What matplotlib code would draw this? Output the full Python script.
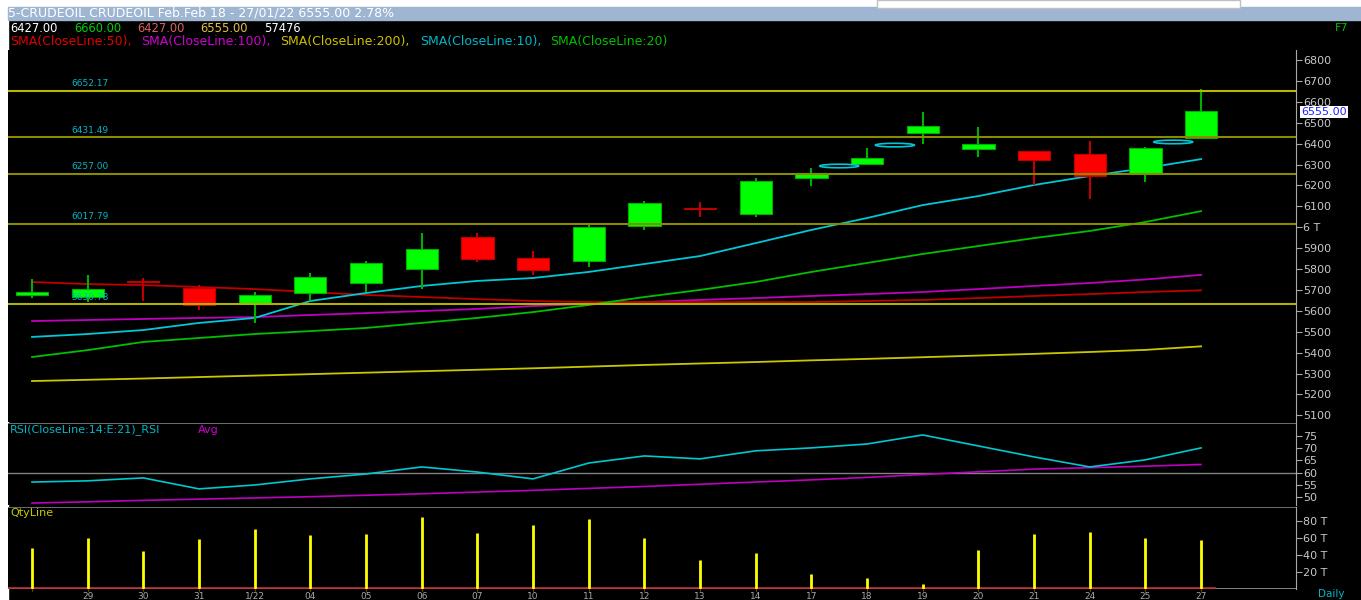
import matplotlib
matplotlib.use('Agg')
import matplotlib.pyplot as plt
from matplotlib.patches import Rectangle, Ellipse

W, H = 1361, 600

# Daily candles (Dec 28 .. Jan 27)
dates = ['', '29', '30', '31', '1/22', '04', '05', '06', '07', '10', '11',
         '12', '13', '14', '17', '18', '19', '20', '21', '24', '25', '27']
opens = [5675, 5666, 5740, 5710, 5637, 5685, 5733, 5800, 5953, 5853, 5838,
         6005, 6092, 6063, 6235, 6302, 6451, 6374, 6364, 6350, 6255, 6427]
closes = [5690, 5704, 5736, 5628, 5675, 5762, 5829, 5896, 5848, 5795, 6001,
          6115, 6088, 6221, 6258, 6330, 6484, 6398, 6321, 6245, 6380, 6555]
highs = [5750, 5770, 5755, 5725, 5690, 5781, 5838, 5972, 5972, 5886, 6015,
         6125, 6120, 6235, 6283, 6379, 6550, 6480, 6366, 6412, 6385, 6660]
lows = [5660, 5640, 5645, 5605, 5540, 5647, 5690, 5705, 5834, 5771, 5810,
        5987, 6050, 6050, 6197, 6297, 6398, 6336, 6202, 6135, 6216, 6427]

# moving averages
sma10 = [5475, 5489, 5508, 5542, 5566, 5647, 5685, 5719, 5743, 5757, 5786,
         5824, 5862, 5924, 5987, 6044, 6106, 6149, 6202, 6245, 6283, 6326]
sma20 = [5379, 5412, 5451, 5470, 5489, 5503, 5518, 5542, 5566, 5594, 5628,
         5666, 5700, 5738, 5786, 5829, 5872, 5910, 5948, 5982, 6025, 6077]
sma50 = [5738, 5728, 5723, 5714, 5704, 5690, 5676, 5666, 5656, 5647, 5642,
         5642, 5642, 5642, 5642, 5647, 5652, 5661, 5671, 5680, 5690, 5698]
sma100 = [5551, 5556, 5561, 5566, 5570, 5580, 5589, 5599, 5609, 5623, 5633,
          5642, 5652, 5661, 5671, 5680, 5690, 5704, 5719, 5733, 5750, 5772]
sma200 = [5264, 5270, 5276, 5283, 5290, 5297, 5304, 5311, 5318, 5325, 5333,
          5341, 5348, 5355, 5363, 5370, 5378, 5386, 5394, 5403, 5413, 5430]

# horizontal levels
levels = [6652.17, 6431.49, 6257.00, 6017.79, 5630.78]
level_colors = ['#b8b800', '#8a8a00', '#8a8a00', '#8a8a00', '#b0b000']

# cyan markers
mark_x = [14.5, 15.5, 20.5]
mark_y = [6293, 6393, 6408]

# RSI
rsi = [56.1, 56.6, 57.8, 53.3, 54.9, 57.4, 59.4, 62.3, 60.2, 57.4, 63.9,
       66.8, 65.6, 68.9, 70.1, 71.7, 75.4, 70.9, 66.4, 62.3, 65.2, 70.1]
rsi_avg = [47.5, 48.0, 48.6, 49.1, 49.6, 50.1, 50.7, 51.3, 52.0, 52.7, 53.5,
           54.3, 55.2, 56.1, 57.0, 58.0, 59.2, 60.3, 61.4, 62.0, 62.6, 63.3]

# volume in thousands
qty = [48.2, 60, 45, 58, 69.8, 62.7, 64.7, 83.9, 65.9, 74.5, 81.5,
       60, 34, 42.7, 17.6, 13.3, 5.9, 46.2, 64.7, 66.6, 59.2, 57.5]

grey = '#a8a8a8'
xs = list(range(len(dates)))
xlim = ((8 - 32) / 55.67, (1296 - 32) / 55.67)


def box(x0, y0, x1, y1):
    return [x0 / W, 1 - y1 / H, (x1 - x0) / W, (y1 - y0) / H]


def style(ax):
    ax.set_facecolor('black')
    for s in ['top', 'left', 'bottom']:
        ax.spines[s].set_visible(False)
    ax.spines['right'].set_color(grey)
    ax.yaxis.tick_right()
    ax.tick_params(axis='y', colors=grey, labelcolor='#c8c8c8', labelsize=8,
                   direction='out', length=4, pad=1)
    ax.set_xlim(*xlim)


fig = plt.figure(figsize=(W / 100, H / 100), dpi=100, facecolor='black')

# white margins and header strip
fig.add_artist(Rectangle((0, 0), 8 / W, 1, transform=fig.transFigure,
                         color='white', zorder=0))
fig.add_artist(Rectangle((0, 1 - 7 / H), 1, 7 / H, transform=fig.transFigure,
                         color='white', zorder=0))
fig.add_artist(Rectangle((877 / W, 1 - 8 / H), 363 / W, 8 / H,
                         transform=fig.transFigure, facecolor='white',
                         edgecolor='#c0c0c0', lw=1, zorder=1))
fig.add_artist(Rectangle((8 / W, 1 - 20 / H), 1 - 8 / W, 13 / H,
                         transform=fig.transFigure, color='#9fb6d2', zorder=0))
fig.text(8 / W, 1 - 13.5 / H,
         '5-CRUDEOIL CRUDEOIL Feb.Feb 18 - 27/01/22 6555.00 2.78%',
         color='white', fontsize=9, va='center', ha='left')

# OHLC values row
for x, t, c in [(10, '6427.00', 'white'), (74, '6660.00', '#00d000'),
                (137, '6427.00', '#e06060'), (200, '6555.00', '#e8c040'),
                (264, '57476', 'white')]:
    fig.text(x / W, 1 - 28 / H, t, color=c, fontsize=8.3, va='center')
fig.text(1335 / W, 1 - 28 / H, 'F7', color='#00c000', fontsize=8, va='center')

# indicator legend row
for x, t, c in [(10, 'SMA(CloseLine:50),', '#e00000'),
                (141, 'SMA(CloseLine:100),', '#d000d0'),
                (280, 'SMA(CloseLine:200),', '#d0c000'),
                (420, 'SMA(CloseLine:10),', '#00b8c8'),
                (550, 'SMA(CloseLine:20)', '#00c000')]:
    fig.text(x / W, 1 - 42 / H, t, color=c, fontsize=9, va='center')

# ---- main price panel
ax = fig.add_axes(box(8, 50, 1296, 422))
style(ax)
ax.set_ylim(5068, 6848)
ax.set_xticks([])
ticks = list(range(5100, 6900, 100))
ax.set_yticks(ticks)
ax.set_yticklabels(['6 T' if t == 6000 else str(t) for t in ticks])

ax.plot(xs, sma200, color='#c8c800', lw=1.3, zorder=2)
ax.plot(xs, sma100, color='#c000c0', lw=1.3, zorder=2)
ax.plot(xs, sma50, color='#c00000', lw=1.3, zorder=2)
ax.plot(xs, sma20, color='#00c000', lw=1.3, zorder=2)
ax.plot(xs, sma10, color='#00c8d8', lw=1.3, zorder=2)

for i in xs:
    o, c, h, l = opens[i], closes[i], highs[i], lows[i]
    up = c >= o
    face = '#00ff00' if up else '#ff0000'
    wick = '#00b000' if up else '#c00000'
    ax.vlines(i, l, h, color=wick, lw=1.5, zorder=3)
    ax.bar(i, max(abs(c - o), 6), bottom=min(o, c), width=0.58,
           color=face, edgecolor=wick, lw=0.8, zorder=4)

for lv, col in zip(levels, level_colors):
    ax.axhline(lv, color=col, lw=1.5, zorder=5)
    ax.text(0.7, lv + 12, f'{lv:.2f}', color='#00b8c8', fontsize=6.5,
            va='bottom', ha='left', zorder=6)

for mx, my in zip(mark_x, mark_y):
    ax.add_patch(Ellipse((mx, my), 0.7, 17, facecolor='none',
                         edgecolor='#00c8d8', lw=1.2, zorder=6))

fig.text(1301 / W, 1 - 112 / H, '6555.00', color='#2020ff', fontsize=8,
         va='center', ha='left',
         bbox=dict(facecolor='white', edgecolor='none', pad=0.8))

# ---- RSI panel
ar = fig.add_axes(box(8, 423, 1296, 505))
style(ar)
ar.set_ylim(46.7, 80.3)
ar.set_xticks([])
ar.set_yticks([50, 55, 60, 65, 70, 75])
ar.axhline(80.3, color='#808080', lw=1.2)
ar.axhline(60, color='#808080', lw=1)
ar.plot(xs, rsi_avg, color='#c000c0', lw=1.2)
ar.plot(xs, rsi, color='#00c8d0', lw=1.2)
fig.text(10 / W, 1 - 430 / H, 'RSI(CloseLine:14:E:21)_RSI', color='#00b8c8',
         fontsize=8, va='center')
fig.text(198 / W, 1 - 430 / H, 'Avg', color='#d000d0', fontsize=8,
         va='center')

# ---- volume panel
av = fig.add_axes(box(8, 507, 1296, 589))
style(av)
av.set_ylim(0, 96)
av.set_yticks([20, 40, 60, 80])
av.set_yticklabels(['20 T', '40 T', '60 T', '80 T'])
av.axhline(96, color='#808080', lw=1.2)
av.axhline(0.5, color='#909090', lw=2)
av.plot([xlim[0], 21.25], [0.8, 0.8], color='#c03030', lw=1.2)
av.vlines(xs, 0, qty, color='#ffff00', lw=2)
av.set_xticks(xs)
av.set_xticklabels(dates)
av.tick_params(axis='x', colors='#c03030', labelcolor=grey, labelsize=6.5,
               length=1.5, pad=0.5)
fig.text(10 / W, 1 - 513 / H, 'QtyLine', color='#c8c800', fontsize=8,
         va='center')
fig.text(1318 / W, 1 - 594 / H, 'Daily', color='#00b8c8', fontsize=7.5,
         va='center')

fig.savefig('out.png', dpi=100, facecolor='black')
